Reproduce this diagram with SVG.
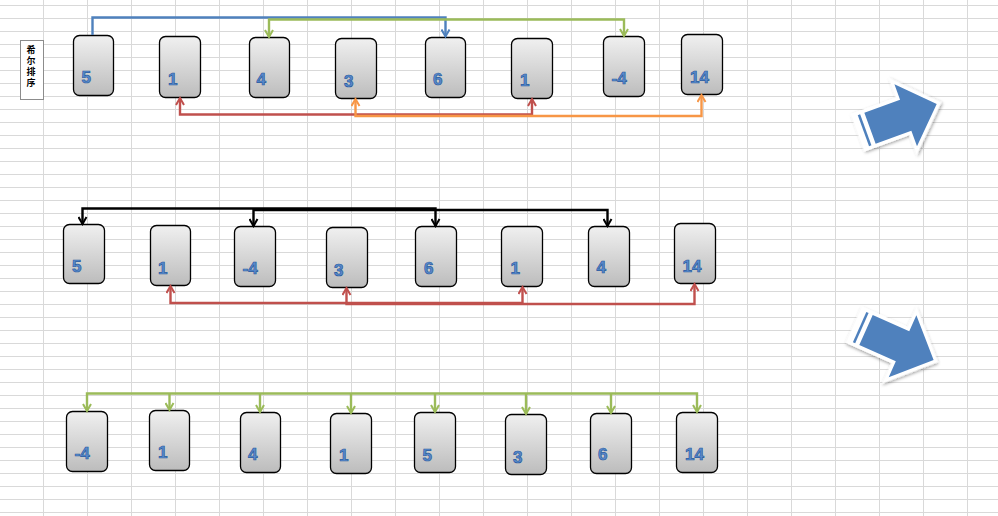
<svg xmlns="http://www.w3.org/2000/svg" width="998" height="516" viewBox="0 0 998 516">
<style>
.card{fill:url(#cg);stroke:#000;stroke-width:1.3}
.num{font-family:"Liberation Sans",Arial,sans-serif;font-weight:bold;font-size:17px;fill:#5a8bcd;stroke:#2a5ca0;stroke-width:0.7}
.lbl{font-family:"Noto Sans CJK SC",sans-serif;font-weight:bold;font-size:9px;fill:#000}
.c{fill:none;stroke-width:2.4}
.blue{stroke:#4f81bd}.green{stroke:#9bbb59}.red{stroke:#c0504d}.orange{stroke:#f79646}.black{stroke:#000}
.ba{fill:#4f81bd}
</style>
<defs>
<pattern id="grid" x="43" y="5" width="44" height="13" patternUnits="userSpaceOnUse">
<path d="M0.5,0V13M0,0.5H44" stroke="#d9d9d9" stroke-width="1" fill="none"/>
</pattern>
<linearGradient id="cg" x1="0" y1="0" x2="0" y2="1">
<stop offset="0" stop-color="#f0f0f0"/><stop offset="1" stop-color="#bcbcbc"/>
</linearGradient>
<filter id="sh" x="-20%" y="-20%" width="140%" height="140%">
<feDropShadow dx="1" dy="1.5" stdDeviation="1.5" flood-color="#000" flood-opacity="0.35"/>
</filter>
<marker id="mBlue" viewBox="0 0 10 10" refX="8" refY="5" markerWidth="10" markerHeight="10" markerUnits="userSpaceOnUse" orient="auto-start-reverse"><path d="M1,1L8,5L1,9" fill="none" stroke="#4f81bd" stroke-width="2"/></marker>
<marker id="mGreen" viewBox="0 0 10 10" refX="8" refY="5" markerWidth="10" markerHeight="10" markerUnits="userSpaceOnUse" orient="auto-start-reverse"><path d="M1,1L8,5L1,9" fill="none" stroke="#9bbb59" stroke-width="2"/></marker>
<marker id="mRed" viewBox="0 0 10 10" refX="8" refY="5" markerWidth="10" markerHeight="10" markerUnits="userSpaceOnUse" orient="auto-start-reverse"><path d="M1,1L8,5L1,9" fill="none" stroke="#c0504d" stroke-width="2"/></marker>
<marker id="mOrange" viewBox="0 0 10 10" refX="8" refY="5" markerWidth="10" markerHeight="10" markerUnits="userSpaceOnUse" orient="auto-start-reverse"><path d="M1,1L8,5L1,9" fill="none" stroke="#f79646" stroke-width="2"/></marker>
<marker id="mBlack" viewBox="0 0 10 10" refX="8" refY="5" markerWidth="10" markerHeight="10" markerUnits="userSpaceOnUse" orient="auto-start-reverse"><path d="M1,1L8,5L1,9" fill="none" stroke="#000" stroke-width="2"/></marker>
</defs>
<rect width="998" height="516" fill="#fff"/>
<rect width="998" height="516" fill="url(#grid)"/>

<g id="title">
<rect x="20.5" y="40.5" width="23" height="59" fill="#fff" stroke="#8c8c8c" stroke-width="1"/>
<text class="lbl" text-anchor="middle"><tspan x="31" y="52.5">希</tspan><tspan x="31" y="63.8">尔</tspan><tspan x="31" y="75.1">排</tspan><tspan x="31" y="86.4">序</tspan></text>
</g>

<!-- Row 1 -->
<g id="r1n0"><rect class="card" x="73.5" y="35.5" width="40" height="60" rx="6"/><text class="num" x="81.5" y="83">5</text></g>
<g id="r1n1"><rect class="card" x="159.5" y="36.5" width="41" height="61" rx="6"/><text class="num" x="168" y="84.5">1</text></g>
<g id="r1n2"><rect class="card" x="249.5" y="37.5" width="40" height="60" rx="6"/><text class="num" x="256.5" y="85">4</text></g>
<g id="r1n3"><rect class="card" x="335.5" y="38.5" width="41" height="60" rx="6"/><text class="num" x="344" y="87">3</text></g>
<g id="r1n4"><rect class="card" x="425.5" y="37.5" width="40" height="60" rx="6"/><text class="num" x="433" y="85">6</text></g>
<g id="r1n5"><rect class="card" x="511.5" y="38.5" width="41" height="60" rx="6"/><text class="num" x="520" y="86">1</text></g>
<g id="r1n6"><rect class="card" x="603.5" y="36.5" width="41" height="60" rx="6"/><text class="num" x="611.5" y="84">-4</text></g>
<g id="r1n7"><rect class="card" x="681.5" y="34.5" width="41" height="60" rx="6"/><text class="num" x="690" y="82.5">14</text></g>

<!-- Row 2 -->
<g id="r2n0"><rect class="card" x="63.5" y="224.5" width="41" height="59" rx="6"/><text class="num" x="72" y="272">5</text></g>
<g id="r2n1"><rect class="card" x="150.5" y="225.5" width="40" height="60" rx="6"/><text class="num" x="158" y="274">1</text></g>
<g id="r2n2"><rect class="card" x="234.5" y="226.5" width="41" height="60" rx="6"/><text class="num" x="242.5" y="273.5">-4</text></g>
<g id="r2n3"><rect class="card" x="326.5" y="227.5" width="41" height="60" rx="6"/><text class="num" x="334" y="275.5">3</text></g>
<g id="r2n4"><rect class="card" x="415.5" y="226.5" width="41" height="60" rx="6"/><text class="num" x="424" y="274">6</text></g>
<g id="r2n5"><rect class="card" x="501.5" y="226.5" width="41" height="60" rx="6"/><text class="num" x="510.5" y="274">1</text></g>
<g id="r2n6"><rect class="card" x="588.5" y="226.5" width="41" height="60" rx="6"/><text class="num" x="596.5" y="273">4</text></g>
<g id="r2n7"><rect class="card" x="674.5" y="223.5" width="41" height="60" rx="6"/><text class="num" x="682.5" y="271.5">14</text></g>

<!-- Row 3 -->
<g id="r3n0"><rect class="card" x="66.5" y="411.5" width="41" height="60" rx="6"/><text class="num" x="74.5" y="459">-4</text></g>
<g id="r3n1"><rect class="card" x="149.5" y="410.5" width="40" height="60" rx="6"/><text class="num" x="158" y="458">1</text></g>
<g id="r3n2"><rect class="card" x="240.5" y="412.5" width="40" height="60" rx="6"/><text class="num" x="248" y="460">4</text></g>
<g id="r3n3"><rect class="card" x="330.5" y="413.5" width="41" height="60" rx="6"/><text class="num" x="339" y="461">1</text></g>
<g id="r3n4"><rect class="card" x="414.5" y="412.5" width="41" height="60" rx="6"/><text class="num" x="422.5" y="461">5</text></g>
<g id="r3n5"><rect class="card" x="505.5" y="414.5" width="41" height="60" rx="6"/><text class="num" x="513" y="463">3</text></g>
<g id="r3n6"><rect class="card" x="590.5" y="413.5" width="41" height="60" rx="6"/><text class="num" x="598" y="460">6</text></g>
<g id="r3n7"><rect class="card" x="676.5" y="412.5" width="41" height="60" rx="6"/><text class="num" x="685" y="460">14</text></g>

<g id="connectors">
<path class="c blue" d="M92.5,35V17.5H445.5V36.5" marker-end="url(#mBlue)"/>
<path class="c green" d="M269,37V19.5H624V36" marker-start="url(#mGreen)" marker-end="url(#mGreen)"/>
<path class="c red" d="M180,98V114.5H532V99" marker-start="url(#mRed)" marker-end="url(#mRed)"/>
<path class="c orange" d="M355.5,99V116H701.5V95" marker-start="url(#mOrange)" marker-end="url(#mOrange)"/>

<path class="c black" d="M82.5,224V208.5H435.5V226" marker-start="url(#mBlack)" marker-end="url(#mBlack)"/>
<path class="c black" d="M253.5,226V210H607.5V226" marker-start="url(#mBlack)" marker-end="url(#mBlack)"/>
<path class="c red" d="M170.5,286V303H522.5V287" marker-start="url(#mRed)" marker-end="url(#mRed)"/>
<path class="c red" d="M346.5,288V304H694.5V284" marker-start="url(#mRed)" marker-end="url(#mRed)"/>

<path class="c green" d="M87,411V393.5H697V412" marker-start="url(#mGreen)" marker-end="url(#mGreen)"/>
<path class="c green" d="M169.5,393.5V410" marker-end="url(#mGreen)"/>
<path class="c green" d="M260,393.5V412" marker-end="url(#mGreen)"/>
<path class="c green" d="M351,393.5V413" marker-end="url(#mGreen)"/>
<path class="c green" d="M435,393.5V412" marker-end="url(#mGreen)"/>
<path class="c green" d="M526,393.5V414" marker-end="url(#mGreen)"/>
<path class="c green" d="M611,393.5V413" marker-end="url(#mGreen)"/>
</g>

<g id="bigArrow1" transform="translate(870,128.3) rotate(-20)">
<path d="M-10,-16.5H38V-33L71,0L38,33V16.5H-10Z" fill="#fff" stroke="#fff" stroke-width="7" stroke-linejoin="miter" filter="url(#sh)"/>
<rect class="ba" x="-7" y="-16.5" width="2.5" height="33"/>
<path class="ba" d="M0,-16.5H38V-33L71,0L38,33V16.5H0Z"/>
</g>
<g id="bigArrow2" transform="translate(866,330) rotate(24)">
<path d="M-10,-16.5H40V-34L74,0L40,34V16.5H-10Z" fill="#fff" stroke="#fff" stroke-width="7" stroke-linejoin="miter" filter="url(#sh)"/>
<rect class="ba" x="-7" y="-16.5" width="2.5" height="33"/>
<path class="ba" d="M0,-16.5H40V-34L74,0L40,34V16.5H0Z"/>
</g>
</svg>
